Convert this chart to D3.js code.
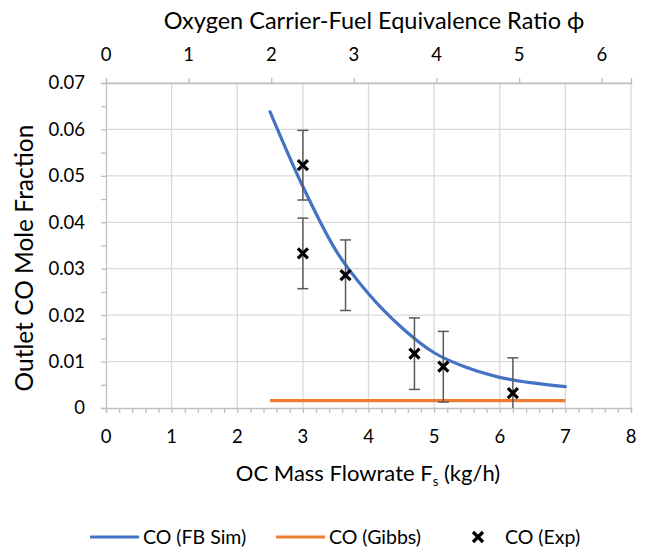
<!DOCTYPE html>
<html>
<head>
<meta charset="utf-8">
<script src="https://cdn.jsdelivr.net/npm/d3@7"></script>
<style>
  body { margin: 0; background: #fff; }
  text { font-family: Lato, "Open Sans", sans-serif; fill: #000; }
</style>
</head>
<body>
<div id="chart"></div>
<script>
// FB simulation curve
const fsSim = [2.5, 3.0, 3.5, 4.0, 4.5, 5.0, 5.5, 6.0, 6.5, 7.0];
const coSim = [0.0638, 0.0477, 0.0340, 0.0246, 0.0174, 0.0119, 0.0087, 0.0066, 0.0054, 0.0046];

// Gibbs equilibrium
const fsGibbs = [2.5, 7.0];
const coGibbs = [0.0016, 0.0016];

// experiments with error bars
const fsExp = [3.0, 3.0, 3.65, 4.70, 5.14, 6.20];
const coExp = [0.0523, 0.0333, 0.0286, 0.0117, 0.0089, 0.0032];
const coErr = [0.0075, 0.0076, 0.0076, 0.0077, 0.0076, 0.0076];

const xTicks = [0, 1, 2, 3, 4, 5, 6, 7, 8];
const phiTicks = [0, 1, 2, 3, 4, 5, 6];
const yTicks = [0, 0.01, 0.02, 0.03, 0.04, 0.05, 0.06, 0.07];
const phiPerF = 6.354 / 8; // phi at the right edge of the plot

const legendNames = ['CO (FB Sim)', 'CO (Gibbs)', 'CO (Exp)'];

const width = 648, height = 547;
const margin = { top: 83, right: 17, bottom: 139, left: 106 };
const blue = '#4472c4', orange = '#ed7d31';
const gridColor = '#d9d9d9', axisColor = '#bfbfbf';

const svg = d3.select('#chart').append('svg')
  .attr('width', width)
  .attr('height', height);

const x = d3.scaleLinear().domain([0, 8]).range([margin.left, width - margin.right]);
const xPhi = d3.scaleLinear().domain([0, 8 * phiPerF]).range([margin.left, width - margin.right]);
const y = d3.scaleLinear().domain([0, 0.07]).range([height - margin.bottom, margin.top]);

// gridlines
svg.append('g').selectAll('line')
  .data(yTicks.filter(d => d > 0))
  .enter().append('line')
  .attr('x1', x(0)).attr('x2', x(8))
  .attr('y1', d => y(d)).attr('y2', d => y(d))
  .attr('stroke', gridColor).attr('stroke-width', 1.3);

svg.append('g').selectAll('line')
  .data(xTicks.filter(d => d > 0))
  .enter().append('line')
  .attr('x1', d => x(d)).attr('x2', d => x(d))
  .attr('y1', y(0)).attr('y2', y(0.07))
  .attr('stroke', gridColor).attr('stroke-width', 1.3);

// bottom axis (major + minor ticks)
const xAxis = svg.append('g')
  .attr('transform', `translate(0,${y(0)})`)
  .call(d3.axisBottom(x).tickValues(d3.range(0, 8.01, 0.2)).tickSize(5).tickFormat(''));
xAxis.select('.domain').attr('stroke', axisColor).attr('stroke-width', 1.3);
xAxis.selectAll('.tick line').attr('stroke', axisColor).attr('stroke-width', 1.3);

svg.append('g').selectAll('text')
  .data(xTicks)
  .enter().append('text')
  .attr('x', d => x(d))
  .attr('y', y(0) + 29)
  .attr('dy', '0.35em')
  .attr('text-anchor', 'middle')
  .style('font-size', '18.5px')
  .text(d => d);

// left axis
const yAxis = svg.append('g')
  .attr('transform', `translate(${x(0)},0)`)
  .call(d3.axisLeft(y).tickValues(d3.range(0, 0.0701, 0.005)).tickSize(5).tickFormat(''));
yAxis.select('.domain').attr('stroke', axisColor).attr('stroke-width', 1.3);
yAxis.selectAll('.tick line').attr('stroke', axisColor).attr('stroke-width', 1.3);

svg.append('g').selectAll('text')
  .data(yTicks)
  .enter().append('text')
  .attr('x', x(0) - 21)
  .attr('y', d => y(d))
  .attr('dy', '0.35em')
  .attr('text-anchor', 'end')
  .style('font-size', '18.5px')
  .text(d => d === 0 ? '0' : d3.format('.2f')(d));

// top axis for equivalence ratio
const topAxis = svg.append('g')
  .attr('transform', `translate(0,${y(0.07)})`)
  .call(d3.axisTop(xPhi).tickValues(phiTicks).tickSize(5).tickFormat(''));
topAxis.select('.domain').attr('stroke', axisColor).attr('stroke-width', 1.3);
topAxis.selectAll('.tick line').attr('stroke', axisColor).attr('stroke-width', 1.3);

svg.append('g').selectAll('text')
  .data(phiTicks)
  .enter().append('text')
  .attr('x', d => xPhi(d))
  .attr('y', y(0.07) - 28)
  .attr('dy', '0.35em')
  .attr('text-anchor', 'middle')
  .style('font-size', '18.5px')
  .text(d => d);

// axis titles
svg.append('text')
  .attr('x', 374).attr('y', 21)
  .attr('dy', '0.35em')
  .attr('text-anchor', 'middle')
  .style('font-size', '23.5px')
  .text('Oxygen Carrier-Fuel Equivalence Ratio ϕ');

const xTitle = svg.append('text')
  .attr('x', 368).attr('y', 473)
  .attr('dy', '0.35em')
  .attr('text-anchor', 'middle')
  .style('font-size', '22px');
xTitle.append('tspan').text('OC Mass Flowrate F');
xTitle.append('tspan').attr('dy', 5).style('font-size', '13px').text('s');
xTitle.append('tspan').attr('dy', -5).text(' (kg/h)');

svg.append('text')
  .attr('transform', 'translate(24,258) rotate(-90)')
  .attr('dy', '0.35em')
  .attr('text-anchor', 'middle')
  .style('font-size', '24.5px')
  .text('Outlet CO Mole Fraction');

// series
const line = d3.line().x(d => x(d[0])).y(d => y(d[1]));

svg.append('path')
  .datum(fsGibbs.map((f, i) => [f, coGibbs[i]]))
  .attr('d', line)
  .attr('fill', 'none')
  .attr('stroke', orange)
  .attr('stroke-width', 3.2);

svg.append('path')
  .datum(fsSim.map((f, i) => [f, coSim[i]]))
  .attr('d', line.curve(d3.curveMonotoneX))
  .attr('fill', 'none')
  .attr('stroke', blue)
  .attr('stroke-width', 3.2)
  .attr('stroke-linecap', 'round');

const expData = fsExp.map((f, i) => ({ f: f, v: coExp[i], e: coErr[i] }));

// error bars
const bars = svg.append('g').selectAll('g')
  .data(expData)
  .enter().append('g')
  .attr('stroke', '#595959')
  .attr('stroke-width', 1.5);

bars.append('line')
  .attr('x1', d => x(d.f)).attr('x2', d => x(d.f))
  .attr('y1', d => y(d.v + d.e)).attr('y2', d => y(Math.max(0, d.v - d.e)));
bars.append('line')
  .attr('x1', d => x(d.f) - 5.5).attr('x2', d => x(d.f) + 5.5)
  .attr('y1', d => y(d.v + d.e)).attr('y2', d => y(d.v + d.e));
bars.filter(d => d.v - d.e > 0).append('line')
  .attr('x1', d => x(d.f) - 5.5).attr('x2', d => x(d.f) + 5.5)
  .attr('y1', d => y(d.v - d.e)).attr('y2', d => y(d.v - d.e));

// x markers
const cross = (s) => `M${-s},${-s}L${s},${s}M${-s},${s}L${s},${-s}`;

svg.append('g').selectAll('path')
  .data(expData)
  .enter().append('path')
  .attr('transform', d => `translate(${x(d.f)},${y(d.v)})`)
  .attr('d', cross(5))
  .attr('stroke', '#000')
  .attr('stroke-width', 3.2);

// legend
const legend = svg.append('g').attr('transform', 'translate(0,537)');

legend.append('line')
  .attr('x1', 90).attr('x2', 139).attr('y1', 0).attr('y2', 0)
  .attr('stroke', blue).attr('stroke-width', 3.2);
legend.append('line')
  .attr('x1', 276).attr('x2', 325).attr('y1', 0).attr('y2', 0)
  .attr('stroke', orange).attr('stroke-width', 3.2);
legend.append('path')
  .attr('transform', 'translate(478,0)')
  .attr('d', cross(5))
  .attr('stroke', '#000').attr('stroke-width', 3.2);

legend.selectAll('text')
  .data(legendNames)
  .enter().append('text')
  .attr('x', (d, i) => [143, 329, 505][i])
  .attr('y', 0)
  .attr('dy', '0.35em')
  .style('font-size', '19.5px')
  .text(d => d);
</script>
</body>
</html>
